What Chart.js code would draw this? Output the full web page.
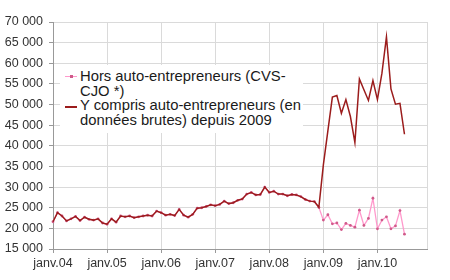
<!DOCTYPE html>
<html lang="fr">
<head>
<meta charset="utf-8">
<script src="https://cdn.jsdelivr.net/npm/chart.js@4/dist/chart.umd.min.js"></script>
<style>
  body { margin: 0; background: #fff; font-family: "Liberation Sans", Arial, sans-serif; }
  #wrap { position: relative; width: 450px; height: 280px; }
  #legend { position: absolute; left: 60px; top: 65px; width: 243px; height: 68px; background: #fff; }
  .txt { position: absolute; left: 20px; font-size: 14.8px; line-height: 14.7px; color: #1a1a1a; white-space: nowrap; }
  .sym { position: absolute; left: 5px; width: 12px; }
  .sym.pink { top: 11px; height: 1px; background: #ff99cc; }
  .sym.pink i { position: absolute; left: 5px; top: -1px; width: 3px; height: 3px; background: #d05a8a; }
  .sym.red { top: 41px; height: 2px; background: #9b1c1c; }
</style>
</head>
<body>
<div id="wrap">
  <canvas id="chart" width="450" height="280"></canvas>
  <div id="legend">
    <div class="sym pink"><i></i></div>
    <div class="txt" style="top:4px">Hors auto-entrepreneurs (CVS-<br>CJO *)</div>
    <div class="sym red"></div>
    <div class="txt" style="top:33.4px">Y compris auto-entrepreneurs (en<br>données brutes) depuis 2009</div>
  </div>
</div>
<script>
const annees = ["04", "05", "06", "07", "08", "09", "10"];
const moisAbr = ["janv", "févr", "mars", "avr", "mai", "juin", "juil", "août", "sept", "oct", "nov", "déc"];

// jan 2004 -> dec 2008 (same value for both series)
const avant2009 = [
  21600, 23800, 23000, 21800, 22300, 22900, 21900, 22700, 22200, 22000, 22300, 21300,
  21000, 22300, 21500, 23000, 22800, 23000, 22600, 22800, 23000, 23200, 23000, 24200,
  23800, 23200, 23400, 23100, 24600, 23200, 22700, 23400, 24900, 25000, 25300, 25700,
  25500, 25800, 26600, 26000, 26200, 26800, 27100, 28300, 28700, 28100, 28200, 30000,
  28700, 29000, 28300, 28300, 27900, 28200, 28100, 27700, 27000, 26600, 26500, 25100
];
// jan 2009 -> jul 2010
const horsDepuis2009 = [
  22000, 23300, 21100, 21300, 19700, 21200, 20700, 20300, 24400, 20700,
  22400, 27300, 19900, 22000, 22800, 19900, 20600, 24300, 18600
];
const yComprisDepuis2009 = [
  35400, 43600, 51800, 52200, 47900, 51200, 47100, 40800, 56200, 53600,
  51000, 55800, 51200, 57600, 66400, 53800, 50100, 50300, 42800
];

const labels = [];
annees.forEach(a => moisAbr.forEach(m => labels.push(m + "." + a)));

const hors = avant2009.concat(horsDepuis2009);
const yCompris = avant2009.concat(yComprisDepuis2009);

const fmt = v => v.toString().replace(/\B(?=(\d{3})+(?!\d))/g, " ");

new Chart(document.getElementById("chart"), {
  type: "line",
  data: {
    labels,
    datasets: [
      {
        label: "Y compris auto-entrepreneurs (en données brutes) depuis 2009",
        data: yCompris,
        borderColor: "#9b1c1c",
        borderWidth: 1.5,
        pointRadius: 0,
        tension: 0,
        order: 1
      },
      {
        label: "Hors auto-entrepreneurs (CVS-CJO *)",
        data: hors,
        borderColor: "#ff99cc",
        borderWidth: 1.3,
        pointRadius: 1.4,
        pointBackgroundColor: "#d05a8a",
        pointBorderColor: "#d05a8a",
        pointBorderWidth: 0,
        tension: 0,
        order: 2
      }
    ]
  },
  options: {
    responsive: false,
    animation: false,
    devicePixelRatio: 1,
    layout: { padding: { left: 0, top: 22, right: 23, bottom: 0 } },
    plugins: { legend: { display: false }, tooltip: { enabled: false } },
    scales: {
      x: {
        afterFit: s => { s.height = 31; },
        grid: {
          color: c => (c.index % 12 === 0 || c.index === 83) ? "#dadada" : "transparent",
          tickColor: c => c.index % 12 === 0 ? "#999" : "transparent",
          tickLength: 4
        },
        border: { color: "#999" },
        ticks: {
          autoSkip: false,
          maxRotation: 0,
          minRotation: 0,
          padding: 3,
          color: "#333",
          font: { family: "'Liberation Sans', Arial, sans-serif", size: 12.5 },
          callback: (v, i) => i % 12 === 0 ? labels[i] : ""
        }
      },
      y: {
        min: 15000,
        max: 70000,
        afterFit: s => { s.width = 53; },
        grid: { color: "#dadada", tickColor: "#999", tickLength: 4 },
        border: { color: "#999" },
        ticks: {
          stepSize: 5000,
          padding: 6,
          color: "#333",
          font: { family: "'Liberation Sans', Arial, sans-serif", size: 12.5 },
          callback: v => fmt(v)
        }
      }
    }
  }
});
</script>
</body>
</html>
